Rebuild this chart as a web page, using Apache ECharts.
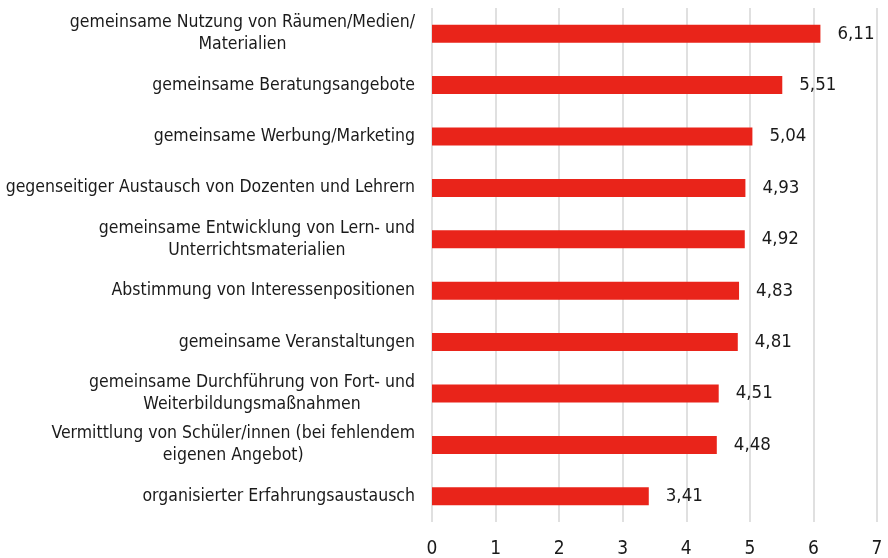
<!DOCTYPE html>
<html>
<head>
<meta charset="utf-8">
<script src="https://cdn.jsdelivr.net/npm/echarts@6/dist/echarts.min.js"></script>
<style>
  html, body { margin: 0; padding: 0; background: #fff; }
  #chart { width: 888px; height: 558px; }
</style>
</head>
<body>
<div id="chart"></div>
<script>
// Kategorien (von oben nach unten)
const categories = [
  'gemeinsame Nutzung von Räumen/Medien/\nMaterialien',
  'gemeinsame Beratungsangebote',
  'gemeinsame Werbung/Marketing',
  'gegenseitiger Austausch von Dozenten und Lehrern',
  'gemeinsame Entwicklung von Lern- und\nUnterrichtsmaterialien',
  'Abstimmung von Interessenpositionen',
  'gemeinsame Veranstaltungen',
  'gemeinsame Durchführung von Fort- und\nWeiterbildungsmaßnahmen',
  'Vermittlung von Schüler/innen (bei fehlendem\neigenen Angebot)',
  'organisierter Erfahrungsaustausch'
]
const values = [6.11, 5.51, 5.04, 4.93, 4.92, 4.83, 4.81, 4.51, 4.48, 3.41]
const xTicks = [0, 1, 2, 3, 4, 5, 6, 7]

const FONT = "'Liberation Sans Narrow', 'DejaVu Sans Condensed', 'Roboto', sans-serif"

const chart = echarts.init(document.getElementById('chart'))

const option = {
  animation: false,
  grid: {
    left: 432,
    right: 11,
    top: 8,
    bottom: 36,
    outerBoundsMode: 'none'
  },
  xAxis: {
    type: 'value',
    min: xTicks[0],
    max: xTicks[xTicks.length - 1],
    interval: 1,
    axisLine: { show: false },
    axisTick: { show: false },
    axisLabel: {
      color: '#1a1a1a',
      fontFamily: FONT,
      fontSize: 19,
      margin: 18
    },
    splitLine: {
      show: true,
      lineStyle: { color: '#e0e0e0', width: 2 }
    }
  },
  yAxis: {
    type: 'category',
    inverse: true,
    data: categories,
    axisLine: { show: false },
    axisTick: { show: false },
    axisLabel: {
      margin: 17,
      formatter: (v) => v.split('\n').map(s => '{c|' + s + '}').join('\n'),
      rich: {
        c: {
          align: 'center',
          color: '#1a1a1a',
          fontFamily: FONT,
          fontSize: 17.5,
          lineHeight: 22
        }
      }
    }
  },
  series: [
    {
      type: 'bar',
      data: values,
      barWidth: 18,
      itemStyle: { color: '#e9241a' },
      label: {
        show: true,
        position: 'right',
        distance: 17,
        color: '#1a1a1a',
        fontFamily: FONT,
        fontSize: 18.5,
        formatter: (p) => p.value.toFixed(2).replace('.', ',')
      }
    }
  ]
}

chart.setOption(option)
</script>
</body>
</html>
